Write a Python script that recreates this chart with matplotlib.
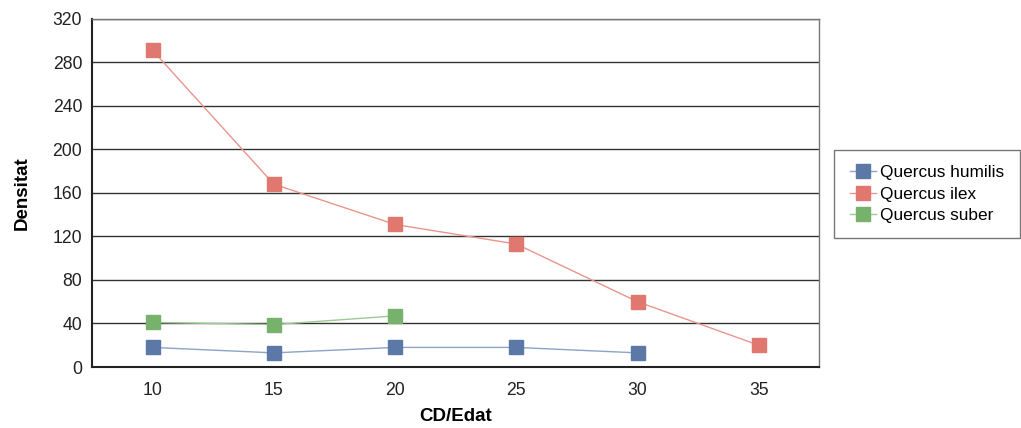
import matplotlib
matplotlib.use("Agg")
import matplotlib.pyplot as plt
import numpy as np

plt.rcParams['font.family'] = ['Liberation Sans', 'DejaVu Sans']

categories = ['10', '15', '20', '25', '30', '35']
humilis = [18, 13, 18, 18, 13]
ilex = [291, 168, 131, 113, 60, 20]
suber = [41, 39, 47]

series = [
    ('Quercus humilis', humilis, '#5b78a6', '#8fa3c4'),
    ('Quercus ilex', ilex, '#e07870', '#e8958e'),
    ('Quercus suber', suber, '#76b26c', '#9bcb92'),
]

fig = plt.figure(figsize=(10.21, 4.28), dpi=100)
ax = fig.add_axes([0.0901, 0.1425, 0.7125, 0.8135])

xpos = np.arange(len(categories))
for name, vals, mcol, lcol in series:
    ax.plot(xpos[:len(vals)], vals, color=lcol, lw=1, marker='s', ms=10,
            mfc=mcol, mec=mcol, label=name, zorder=3)

ax.set_xlim(-0.5, len(categories) - 0.5)
ax.set_ylim(0, 320)
ax.set_yticks(np.arange(0, 321, 40))
ax.set_xticks(xpos)
ax.set_xticklabels(categories)
ax.yaxis.grid(True, color='#333333', lw=1)
ax.set_axisbelow(True)
ax.tick_params(length=0, labelsize=12.7, colors='#222222')
ax.tick_params(axis='x', pad=10.5)
ax.tick_params(axis='y', pad=7)
for s in ax.spines.values():
    s.set_color('#777777')
    s.set_linewidth(1)
ax.spines['bottom'].set_color('#222222')
ax.spines['bottom'].set_linewidth(1.5)
ax.spines['left'].set_color('#222222')
ax.spines['left'].set_linewidth(1.5)

ax.set_xlabel('CD/Edat', fontsize=13.5, fontweight='bold', labelpad=7)
ax.set_ylabel('Densitat', fontsize=13.5, fontweight='bold', labelpad=16)

leg = ax.legend(loc='upper left', bbox_to_anchor=(1.0206, 0.6236), fontsize=12.4,
                frameon=True, fancybox=False, edgecolor='#555555',
                handlelength=1.5, handletextpad=0.25, borderpad=0.9,
                labelspacing=0.36, borderaxespad=0)
leg.get_frame().set_linewidth(1)

fig.savefig('out.png', dpi=100)
